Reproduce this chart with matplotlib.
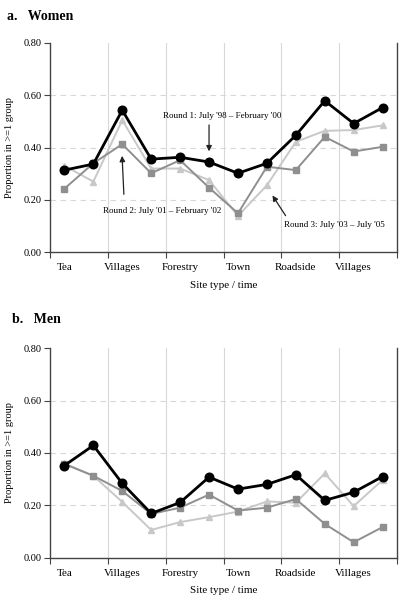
import matplotlib
matplotlib.use("Agg")
import matplotlib.pyplot as plt
import numpy as np

plt.rcParams['font.family'] = ['Liberation Serif', 'DejaVu Serif']

# site types, two time points each
sites = ["Tea", "Villages", "Forestry", "Town", "Roadside", "Villages"]

women_r1 = [0.314, 0.337, 0.543, 0.356, 0.363, 0.345, 0.302, 0.340, 0.447, 0.579, 0.492, 0.553]
women_r2 = [0.243, 0.340, 0.413, 0.302, 0.352, 0.247, 0.149, 0.327, 0.314, 0.441, 0.385, 0.403]
women_r3 = [0.331, 0.270, 0.505, 0.320, 0.320, 0.276, 0.139, 0.256, 0.422, 0.464, 0.467, 0.485]

men_r1 = [0.352, 0.429, 0.284, 0.169, 0.211, 0.308, 0.262, 0.280, 0.317, 0.219, 0.250, 0.310]
men_r2 = [0.358, 0.313, 0.255, 0.167, 0.191, 0.241, 0.180, 0.191, 0.224, 0.129, 0.059, 0.117]
men_r3 = [0.360, 0.313, 0.213, 0.106, 0.136, 0.155, 0.176, 0.215, 0.210, 0.322, 0.197, 0.297]

x = np.arange(12) * 0.5 + 0.25

fig = plt.figure(figsize=(4.06, 6.0), dpi=100)
ax1 = fig.add_axes([0.123, 0.5795, 0.855, 0.349])
ax2 = fig.add_axes([0.123, 0.0705, 0.855, 0.349])


def style(ax, r1, r2, r3):
    ax.plot(x, r3, color="#c8c8c8", lw=1.4, marker="^", ms=5, zorder=3)
    ax.plot(x, r2, color="#8f8f8f", lw=1.4, marker="s", ms=4.5, zorder=4)
    ax.plot(x, r1, color="black", lw=2, marker="o", ms=6.2, zorder=5)
    ax.set_xlim(0, 6)
    ax.set_ylim(0, 0.8)
    ax.set_yticks([0, 0.2, 0.4, 0.6, 0.8])
    ax.set_yticklabels(["0.00", "0.20", "0.40", "0.60", "0.80"], fontsize=7.5)
    ax.set_xticks(range(7))
    ax.set_xticklabels([])
    ax.set_xticks(np.arange(6) + 0.25, minor=True)
    ax.set_xticklabels(sites, minor=True, fontsize=8)
    ax.tick_params(axis="x", which="minor", length=0, pad=8)
    ax.tick_params(axis="x", which="major", length=4, color="#444")
    ax.tick_params(axis="y", length=4, color="#444", pad=2)
    for yv in [0.2, 0.4, 0.6]:
        ax.axhline(yv, color="#d8d8d8", lw=0.8, ls=(0, (5, 4)), zorder=1)
    for xv in range(1, 6):
        ax.axvline(xv, color="#d8d8d8", lw=0.8, zorder=1)
    ax.spines["top"].set_visible(False)
    for s in ["left", "bottom", "right"]:
        ax.spines[s].set_color("#444")
        ax.spines[s].set_linewidth(1)
    ax.set_ylabel("Proportion in >=1 group", fontsize=7.5, labelpad=7)
    ax.set_xlabel("Site type / time", fontsize=8, labelpad=6)


style(ax1, women_r1, women_r2, women_r3)
style(ax2, men_r1, men_r2, men_r3)

fig.text(0.017, 0.983, "a.   Women", fontsize=10, fontweight="bold", va="top")
fig.text(0.029, 0.479, "b.   Men", fontsize=10, fontweight="bold", va="top")

arrow = dict(arrowstyle="-|>", color="#222", lw=0.9, mutation_scale=8)
ax1.annotate("Round 1: July '98 – February '00", xy=(2.75, 0.375), xytext=(2.97, 0.52),
             fontsize=6.5, ha="center", va="center")
ax1.annotate("", xy=(2.75, 0.375), xytext=(2.75, 0.497), arrowprops=arrow)
ax1.annotate("Round 2: July '01 – February '02", xy=(1.245, 0.379), xytext=(1.94, 0.158),
             fontsize=6.5, ha="center", va="center")
ax1.annotate("", xy=(1.245, 0.379), xytext=(1.28, 0.211), arrowprops=arrow)
ax1.annotate("Round 3: July '03 – July '05", xy=(3.82, 0.226), xytext=(4.91, 0.104),
             fontsize=6.5, ha="center", va="center")
ax1.annotate("", xy=(3.82, 0.226), xytext=(4.10, 0.131), arrowprops=arrow)

fig.savefig("out.png", dpi=100)
